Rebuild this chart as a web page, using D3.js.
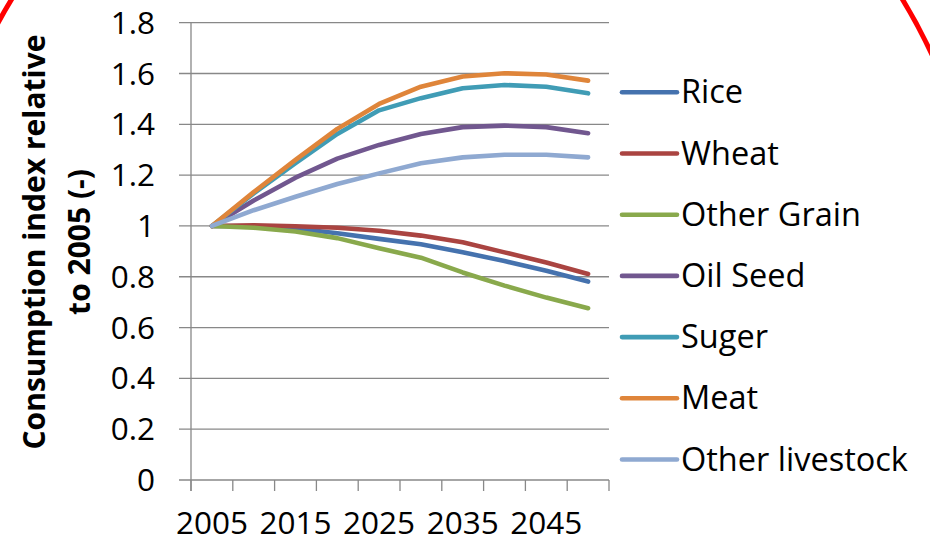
<!DOCTYPE html>
<html>
<head>
<meta charset="utf-8">
<script src="https://cdn.jsdelivr.net/npm/d3@7"></script>
<style>
  html, body { margin: 0; padding: 0; background: #fff; }
  svg { display: block; }
  text { font-family: "Open Sans", "DejaVu Sans", sans-serif; fill: #000; }
</style>
</head>
<body>
<svg id="chart" width="930" height="542"></svg>
<script>
// Consumption index relative to 2005, five-year steps
const years = [2005, 2010, 2015, 2020, 2025, 2030, 2035, 2040, 2045, 2050];
const yearLabels = [2005, 2015, 2025, 2035, 2045];
const yTicks = [0, 0.2, 0.4, 0.6, 0.8, 1, 1.2, 1.4, 1.6, 1.8];

const seriesNames = ["Rice", "Wheat", "Other Grain", "Oil Seed", "Suger", "Meat", "Other livestock"];
const rice       = [1, 0.999, 0.990, 0.971, 0.949, 0.928, 0.896, 0.862, 0.824, 0.781];
const wheat      = [1, 1.003, 0.999, 0.993, 0.981, 0.962, 0.936, 0.896, 0.856, 0.811];
const otherGrain = [1, 0.993, 0.978, 0.952, 0.912, 0.875, 0.817, 0.765, 0.718, 0.676];
const oilSeed    = [1, 1.100, 1.190, 1.265, 1.319, 1.362, 1.389, 1.395, 1.389, 1.365];
const suger      = [1, 1.128, 1.247, 1.362, 1.455, 1.503, 1.542, 1.555, 1.548, 1.522];
const meat       = [1, 1.133, 1.260, 1.382, 1.480, 1.548, 1.588, 1.601, 1.596, 1.572];
const otherLive  = [1, 1.062, 1.115, 1.165, 1.207, 1.247, 1.270, 1.280, 1.280, 1.270];
const seriesValues = [rice, wheat, otherGrain, oilSeed, suger, meat, otherLive];
const seriesColors = ["#4572AE", "#AA4441", "#89A94C", "#71578F", "#409CB5", "#DF853A", "#8FA9D1"];

const svg = d3.select("#chart");
const plotLeft = 191, plotRight = 609, plotTop = 22.7, plotBottom = 480;
const gridColor = "#888888";

const x = d3.scaleBand().domain(years).range([plotLeft, plotRight]).paddingInner(0).paddingOuter(0);
const xc = d => x(d) + x.bandwidth() / 2;
const y = d3.scaleLinear().domain([0, 1.8]).range([plotBottom, plotTop]);

// horizontal gridlines (extend left as tick marks)
svg.append("g").selectAll("line").data(yTicks).join("line")
  .attr("x1", plotLeft - 12).attr("x2", plotRight)
  .attr("y1", d => y(d)).attr("y2", d => y(d))
  .attr("stroke", gridColor).attr("stroke-width", 1.3);

// vertical axis line
svg.append("line")
  .attr("x1", plotLeft).attr("x2", plotLeft).attr("y1", y(1.8)).attr("y2", plotBottom + 11)
  .attr("stroke", gridColor).attr("stroke-width", 1.3);

// category boundary ticks below the axis
const bounds = years.map(d => x(d)).concat([plotRight]);
svg.append("g").selectAll("line").data(bounds).join("line")
  .attr("x1", d => d).attr("x2", d => d)
  .attr("y1", plotBottom).attr("y2", plotBottom + 11)
  .attr("stroke", gridColor).attr("stroke-width", 1.3);

// y tick labels
const fmt = d => String(+d.toFixed(1));
svg.append("g").selectAll("text").data(yTicks).join("text")
  .attr("x", 155).attr("y", d => y(d) + 11)
  .attr("text-anchor", "end").attr("font-size", 31.5)
  .text(fmt);

// x tick labels
svg.append("g").selectAll("text").data(yearLabels).join("text")
  .attr("x", d => xc(d)).attr("y", 533.5)
  .attr("text-anchor", "middle").attr("font-size", 31.5)
  .text(d => d);

// y axis title
const titleLines = ["Consumption index relative", "to 2005 (-)"];
const tx = [45, 90];
svg.append("g").selectAll("text").data(titleLines).join("text")
  .attr("transform", (d, i) => `translate(${tx[i]},242) rotate(-90)`)
  .attr("text-anchor", "middle").attr("font-size", 30).attr("font-weight", "bold")
  .text(d => d);

// series lines
const line = d3.line().x((d, i) => xc(years[i])).y(d => y(d));
svg.append("g").selectAll("path").data(seriesValues).join("path")
  .attr("d", d => line(d))
  .attr("fill", "none")
  .attr("stroke", (d, i) => seriesColors[i])
  .attr("stroke-width", 4.6)
  .attr("stroke-linejoin", "round").attr("stroke-linecap", "round");

// legend
const legY = i => 92.3 + i * 61.2;
const leg = svg.append("g").selectAll("g").data(seriesNames).join("g");
leg.append("line")
  .attr("x1", 622).attr("x2", 677)
  .attr("y1", (d, i) => legY(i)).attr("y2", (d, i) => legY(i))
  .attr("stroke", (d, i) => seriesColors[i]).attr("stroke-width", 4.6)
  .attr("stroke-linecap", "round");
leg.append("text")
  .attr("x", 681).attr("y", (d, i) => legY(i) + 11)
  .attr("font-size", 32.5)
  .text(d => d);

// red annotation ring
svg.append("ellipse")
  .attr("cx", 457).attr("cy", 300).attr("rx", 529).attr("ry", 557)
  .attr("fill", "none").attr("stroke", "#FF0000").attr("stroke-width", 5);
</script>
</body>
</html>
